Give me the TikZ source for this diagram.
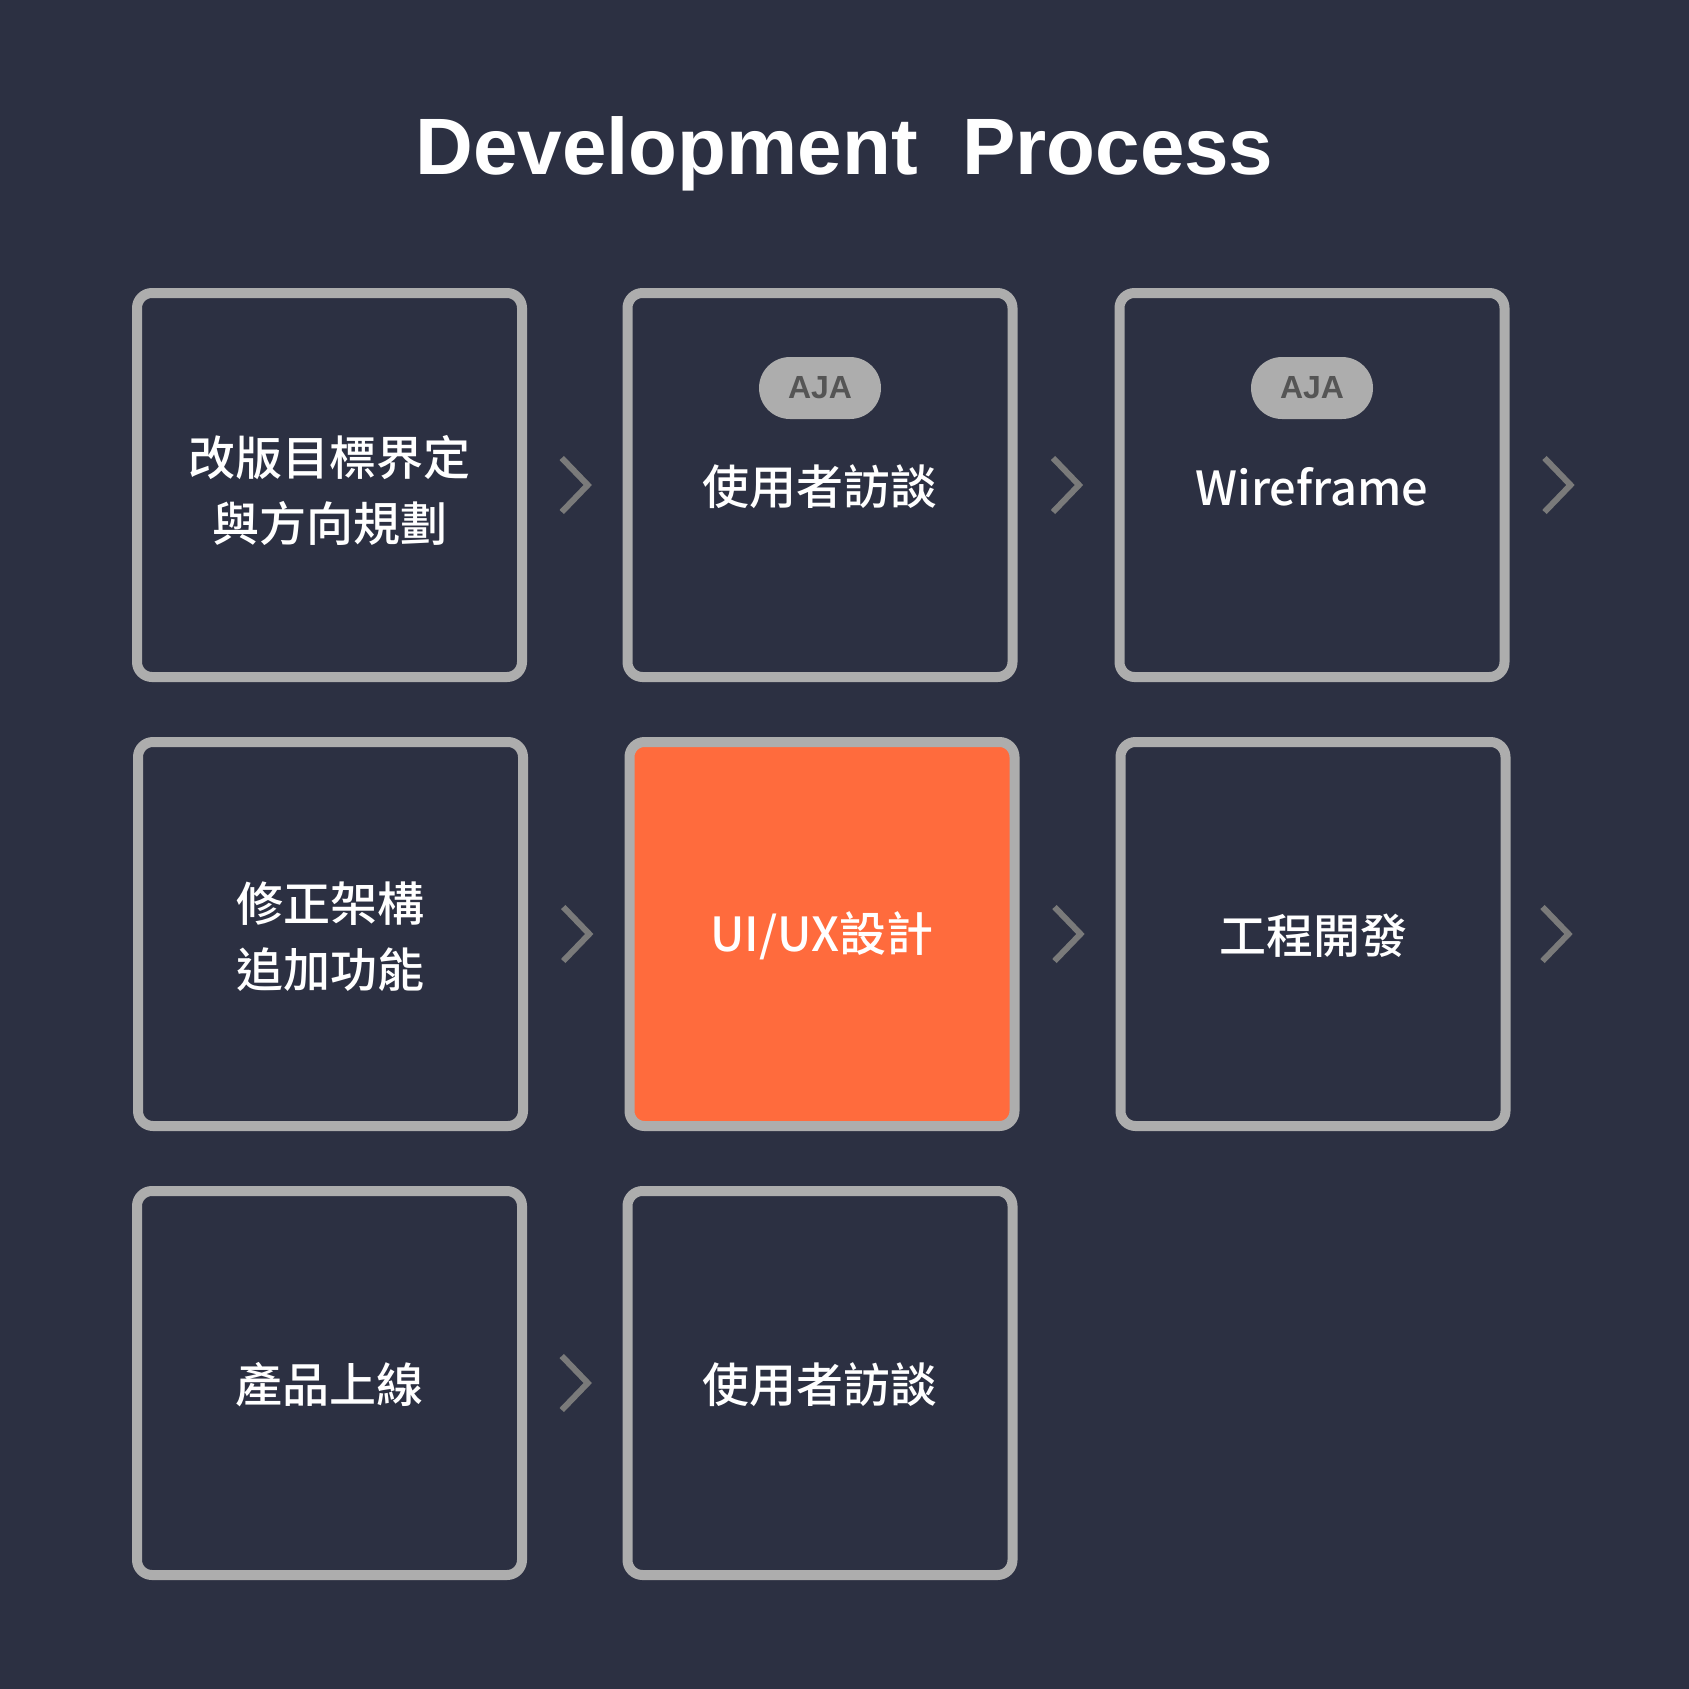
\documentclass[tikz,border=0pt]{standalone}
\usepackage{fontspec}
\newfontfamily\cjk{Noto Sans CJK TC}[UprightFont={* Medium}]
\newfontfamily\titlefont{Liberation Sans}
\usetikzlibrary{calc}
\definecolor{bg}{HTML}{2C3042}
\definecolor{frame}{HTML}{ADADAD}
\definecolor{accent}{HTML}{FF6B3D}
\definecolor{chevc}{HTML}{7A7A7A}
\definecolor{badgetxt}{HTML}{555555}
\tikzset{
  box/.style={draw=frame, line width=10pt, rounded corners=15pt,
    minimum width=385pt, minimum height=384pt, inner sep=0pt, fill=bg},
  hot/.style={box, fill=accent},
  txt/.style={text=white, align=center, inner sep=0pt,
    font=\cjk\fontsize{47}{66}\selectfont},
  badge/.style={fill=frame, rounded corners=31pt, minimum width=122pt,
    minimum height=62pt, inner sep=0pt, text=badgetxt,
    font=\titlefont\bfseries\fontsize{32}{32}\selectfont},
  chev/.style={draw=chevc, line width=6pt, line cap=butt, line join=miter},
}
\newcommand{\chevat}[1]{%
  \draw[chev] ([shift={(-13,-27)}]#1) -- ([shift={(13,0)}]#1) -- ([shift={(-13,27)}]#1);}
\begin{document}
\begin{tikzpicture}[x=1pt, y=-1pt]
\useasboundingbox (0,0) rectangle (1689,1689);
\fill[bg] (0,0) rectangle (1689,1689);

\node[font=\titlefont\bfseries\fontsize{80}{90}\selectfont, text=white, anchor=base]
  (title) at (844.5,174.5) {Development\ \ Process};

% row 1
\node[box] (b1) at (329.5,485) {};
\node[box] (b2) at (820,485) {};
\node[box] (b3) at (1312,485) {};
\node[txt] (t1) at ([yshift=-5pt]b1.center) {改版目標界定\\與方向規劃};
\node[txt] (t2) at ([yshift=-2pt]b2.center) {使用者訪談};
\node[txt] (t3) at ([yshift=-2pt]b3.center) {Wireframe};
\node[badge] (a2) at ([yshift=97pt]b2.center) {AJA};
\node[badge] (a3) at ([yshift=97pt]b3.center) {AJA};

% row 2
\node[box] (b4) at (330.5,934) {};
\node[hot] (b5) at (822,934) {};
\node[box] (b6) at (1313,934) {};
\node[txt] (t4) at ([yshift=-3pt]b4.center) {修正架構\\追加功能};
\node[txt] (t5) at ([yshift=-2pt]b5.center) {UI/UX設計};
\node[txt] (t6) at ([yshift=-2pt]b6.center) {工程開發};

% row 3
\node[box] (b7) at (329.5,1383) {};
\node[box] (b8) at (820,1383) {};
\node[txt] (t7) at ([yshift=-2pt]b7.center) {產品上線};
\node[txt] (t8) at ([yshift=-2pt]b8.center) {使用者訪談};

% chevrons
\coordinate (c12) at ($(b1.east)!0.5!(b2.west)$);
\coordinate (c23) at ($(b2.east)!0.5!(b3.west)$);
\coordinate (c3r) at ([xshift=48pt]b3.east);
\coordinate (c45) at ($(b4.east)!0.5!(b5.west)$);
\coordinate (c56) at ($(b5.east)!0.5!(b6.west)$);
\coordinate (c6r) at ([xshift=45pt]b6.east);
\coordinate (c78) at ($(b7.east)!0.5!(b8.west)$);
\chevat{c12}
\chevat{c23}
\chevat{c3r}
\chevat{c45}
\chevat{c56}
\chevat{c6r}
\chevat{c78}
\end{tikzpicture}
\end{document}
